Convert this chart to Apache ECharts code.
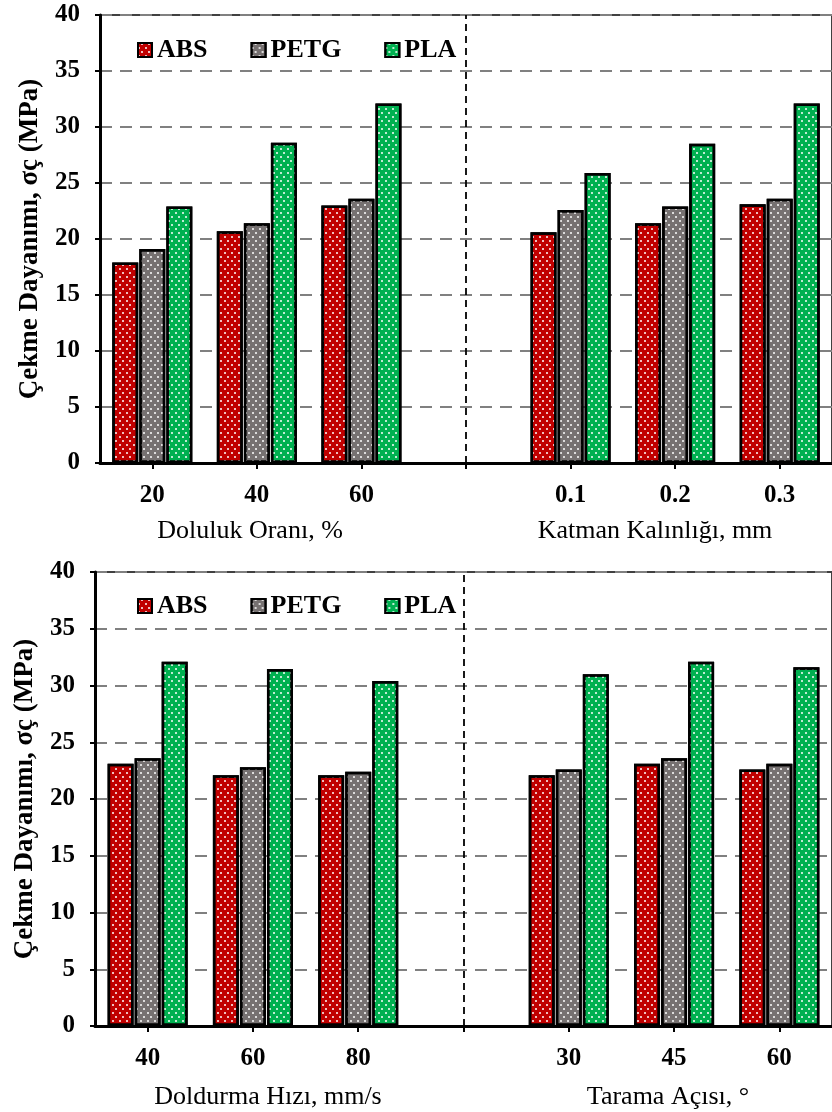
<!DOCTYPE html>
<html>
<head>
<meta charset="utf-8">
<script src="https://cdn.jsdelivr.net/npm/echarts@6/dist/echarts.min.js"></script>
<style>
  html, body { margin: 0; padding: 0; background: #fff; }
  #chart { width: 832px; height: 1112px; }
</style>
</head>
<body>
<div id="chart"></div>
<script>
var chartDom = document.getElementById('chart');
var myChart = echarts.init(chartDom);

// top panel: infill ratio / layer thickness
var topCats = ['20', '40', '60', '', '0.1', '0.2', '0.3'];
var topABS = [17.9, 20.7, 23.0, null, 20.6, 21.4, 23.1];
var topPETG = [19.1, 21.4, 23.6, null, 22.6, 22.9, 23.6];
var topPLA = [22.9, 28.6, 32.1, null, 25.9, 28.5, 32.1];

// bottom panel: fill speed / raster angle
var botCats = ['40', '60', '80', '', '30', '45', '60'];
var botABS = [23.1, 22.1, 22.1, null, 22.1, 23.1, 22.6];
var botPETG = [23.6, 22.8, 22.4, null, 22.6, 23.6, 23.1];
var botPLA = [32.1, 31.45, 30.4, null, 31.0, 32.1, 31.6];

var seriesNames = ['ABS', 'PETG', 'PLA'];
var colors = ['#C00000', '#767171', '#00B050'];

var serif = '"Liberation Serif", "Times New Roman", serif';

// white dot fill, staggered rows
var dots = {
    symbol: 'circle',
    symbolSize: 1,
    color: '#ffffff',
    dashArrayX: [[1.3, 4.7], [0, 3, 1.3, 1.7]],
    dashArrayY: [1.3, 1.7]
};

function yAx(gridIndex) {
    return {
        type: 'value',
        gridIndex: gridIndex,
        min: 0,
        max: 40,
        interval: 5,
        name: 'Çekme Dayanımı, σç (MPa)',
        nameLocation: 'middle',
        nameGap: 56,
        nameTextStyle: { fontFamily: serif, fontWeight: 'bold', fontSize: 27, color: '#000' },
        axisLine: { show: true, lineStyle: { color: '#000', width: 3 } },
        axisTick: { show: true, length: 5, lineStyle: { color: '#000', width: 2 } },
        axisLabel: { fontFamily: serif, fontWeight: 'bold', fontSize: 25, color: '#000', margin: 20 },
        splitLine: { show: true, lineStyle: { color: '#808080', width: 2, type: [12, 8] } }
    };
}

function xAx(gridIndex, cats) {
    return {
        type: 'category',
        gridIndex: gridIndex,
        data: cats,
        axisLine: { lineStyle: { color: '#000', width: 3 } },
        axisTick: { show: true, alignWithLabel: true, length: 6, lineStyle: { color: '#000', width: 2 } },
        axisLabel: { fontFamily: serif, fontWeight: 'bold', fontSize: 25, color: '#000', margin: 20, interval: 0 },
        splitLine: { show: false }
    };
}

function makeSeries(gridIndex, lists) {
    return lists.map(function (d, i) {
        var s = {
            name: seriesNames[i],
            type: 'bar',
            xAxisIndex: gridIndex,
            yAxisIndex: gridIndex,
            data: d,
            barWidth: 26,
            barGap: '4%',
            itemStyle: {
                color: colors[i],
                borderColor: '#000',
                borderWidth: 2.5,
                decal: dots
            },
            emphasis: { disabled: true }
        };
        if (i === 1) {
            // dashed separator between the two parameter groups (middle bar sits on the category centre)
            s.markLine = {
                silent: true,
                symbol: 'none',
                label: { show: false },
                lineStyle: { color: '#000', width: 1.8, type: [7, 5] },
                data: [{ xAxis: 3 }]
            };
        }
        return s;
    });
}

function legendAt(top) {
    return {
        top: top,
        left: 132,
        itemWidth: 14,
        itemHeight: 14,
        itemGap: 43,
        icon: 'rect',
        selectedMode: false,
        data: seriesNames,
        itemStyle: { borderColor: '#000', borderWidth: 2 },
        textStyle: { fontFamily: serif, fontWeight: 'bold', fontSize: 26, color: '#000' }
    };
}

function axName(text, x, y) {
    return {
        type: 'text',
        x: x,
        y: y,
        style: {
            text: text,
            font: '26px ' + serif,
            fill: '#000',
            textAlign: 'center',
            textVerticalAlign: 'middle'
        }
    };
}

var option = {
    animation: false,
    backgroundColor: '#ffffff',
    legend: [legendAt(32), legendAt(588)],
    grid: [
        { left: 100, top: 15, width: 735, height: 448, show: true, borderColor: '#404040', borderWidth: 2 },
        { left: 95, top: 572, width: 746, height: 454, show: true, borderColor: '#404040', borderWidth: 2 }
    ],
    xAxis: [xAx(0, topCats), xAx(1, botCats)],
    yAxis: [yAx(0), yAx(1)],
    series: makeSeries(0, [topABS, topPETG, topPLA]).concat(makeSeries(1, [botABS, botPETG, botPLA])),
    graphic: [
        axName('Doluluk Oranı, %', 250, 531),
        axName('Katman Kalınlığı, mm', 655, 531),
        axName('Doldurma Hızı, mm/s', 268, 1097),
        axName('Tarama Açısı, °', 668, 1097)
    ]
};

myChart.setOption(option);
</script>
</body>
</html>
